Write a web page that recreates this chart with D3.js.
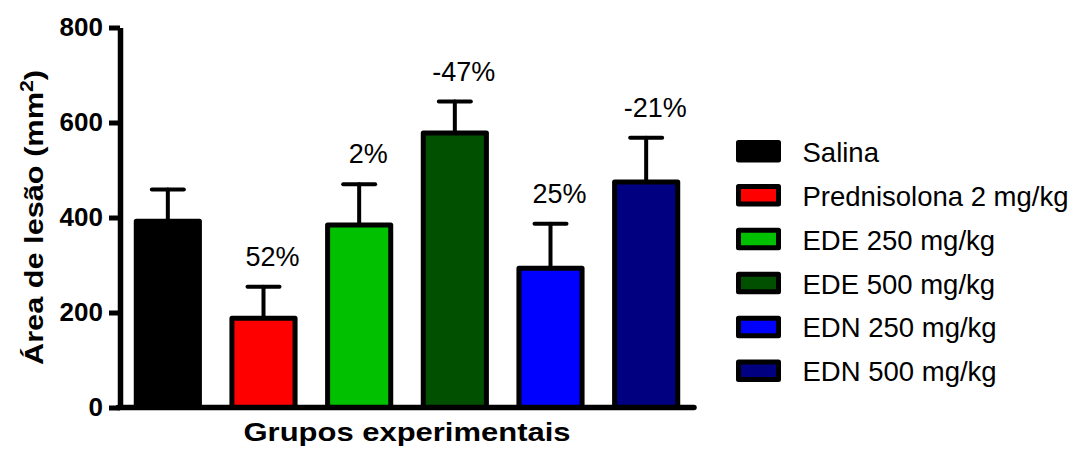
<!DOCTYPE html>
<html>
<head>
<meta charset="utf-8">
<script src="https://cdn.jsdelivr.net/npm/d3@7"></script>
<style>
  html, body { margin: 0; padding: 0; background: #fff; }
  svg { display: block; font-family: "Liberation Sans", Arial, Helvetica, sans-serif; }
</style>
</head>
<body>
<svg id="chart" width="1074" height="450"></svg>
<script>
// Lesion area per experimental group (mean and SEM, mm²)
const groups = ["Salina", "Prednisolona 2 mg/kg", "EDE 250 mg/kg", "EDE 500 mg/kg", "EDN 250 mg/kg", "EDN 500 mg/kg"];
const means = [392, 188, 384, 578, 293, 475];
const sems = [67, 66, 86, 66, 94, 93];
const colors = ["#000000", "#ff0000", "#00c000", "#005000", "#0000ff", "#000080"];
const yTicks = [0, 200, 400, 600, 800];
// Inhibition relative to the saline group (blank for the control itself)
const changeLabels = ["", "52%", "2%", "-47%", "25%", "-21%"];

const data = groups.map((g, i) => ({ group: g, mean: means[i], sem: sems[i], color: colors[i], label: changeLabels[i] }));

const svg = d3.select("#chart");
const x0 = 120, x1 = 694, yBottom = 407.5, yTop = 27.5;

const x = d3.scaleBand().domain(groups).range([x0, x1]).paddingInner(0.34).paddingOuter(0.17);
const y = d3.scaleLinear().domain([0, 800]).range([yBottom, yTop]);

// Error bars (drawn first so the bar outline covers the stem base)
const err = svg.append("g").attr("stroke", "#000").attr("stroke-width", 4).attr("stroke-linecap", "round");
err.selectAll("line.stem").data(data).join("line")
  .attr("class", "stem")
  .attr("x1", d => x(d.group) + x.bandwidth() / 2)
  .attr("x2", d => x(d.group) + x.bandwidth() / 2)
  .attr("y1", d => y(d.mean))
  .attr("y2", d => y(d.mean + d.sem));
err.selectAll("line.cap").data(data).join("line")
  .attr("class", "cap")
  .attr("x1", d => x(d.group) + x.bandwidth() / 2 - 16)
  .attr("x2", d => x(d.group) + x.bandwidth() / 2 + 16)
  .attr("y1", d => y(d.mean + d.sem))
  .attr("y2", d => y(d.mean + d.sem));

// Bars
svg.append("g").selectAll("rect").data(data).join("rect")
  .attr("x", d => x(d.group))
  .attr("width", x.bandwidth())
  .attr("y", d => y(d.mean))
  .attr("height", d => y(0) - y(d.mean))
  .attr("fill", d => d.color)
  .attr("stroke", "#000")
  .attr("stroke-width", 5)
  .attr("stroke-linejoin", "round");

// Percent change labels above the error bars
svg.append("g").selectAll("text").data(data.filter(d => d.label)).join("text")
  .attr("x", d => x(d.group) + x.bandwidth() / 2 + 9)
  .attr("y", d => y(d.mean + d.sem) - 21)
  .attr("text-anchor", "middle")
  .attr("font-size", 27)
  .attr("fill", "#000")
  .text(d => d.label);

// Y axis
const yAxis = svg.append("g")
  .attr("transform", `translate(${x0},0)`)
  .call(d3.axisLeft(y).tickValues(yTicks).tickSize(11).tickSizeOuter(0).tickPadding(6));
yAxis.select(".domain").attr("stroke-width", 5.5);
yAxis.selectAll(".tick line").attr("stroke-width", 5);
yAxis.selectAll(".tick text")
  .attr("font-family", "'Liberation Sans', Arial, sans-serif")
  .attr("font-size", 26).attr("font-weight", "bold").attr("fill", "#000");

// X axis baseline
const xAxis = svg.append("g")
  .attr("transform", `translate(0,${yBottom})`)
  .call(d3.axisBottom(x).tickValues([]).tickSizeOuter(0));
xAxis.select(".domain").attr("stroke-width", 5.5).attr("stroke-linecap", "round")
  .attr("d", `M${x0 - 2},0H${x1}`);

// Axis titles
svg.append("text")
  .attr("x", (x0 + x1) / 2)
  .attr("y", 441)
  .attr("text-anchor", "middle")
  .attr("font-size", 26).attr("font-weight", "bold")
  .attr("textLength", 327).attr("lengthAdjust", "spacingAndGlyphs")
  .text("Grupos experimentais");

const yTitle = svg.append("text")
  .attr("transform", "translate(43,217.5) rotate(-90)")
  .attr("text-anchor", "middle")
  .attr("font-size", 26).attr("font-weight", "bold")
  .attr("textLength", 295).attr("lengthAdjust", "spacingAndGlyphs");
yTitle.append("tspan").text("Área de lesão (mm");
yTitle.append("tspan").attr("font-size", 18).attr("dy", -10).text("2");
yTitle.append("tspan").attr("dy", 10).text(")");

// Legend
const legend = svg.append("g").selectAll("g").data(data).join("g")
  .attr("transform", (d, i) => `translate(738.5,${151.3 + i * 43.9})`);
legend.append("rect")
  .attr("x", 0).attr("y", -8.75)
  .attr("width", 40).attr("height", 17.5)
  .attr("fill", d => d.color)
  .attr("stroke", "#000").attr("stroke-width", 5).attr("stroke-linejoin", "round");
legend.append("text")
  .attr("x", 64).attr("y", 10.5)
  .attr("font-size", 27.5)
  .text(d => d.group);
</script>
</body>
</html>
